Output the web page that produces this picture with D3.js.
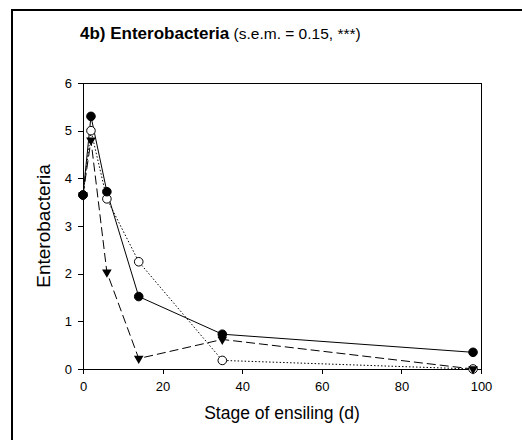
<!DOCTYPE html>
<html>
<head>
<meta charset="utf-8">
<script src="https://cdn.jsdelivr.net/npm/d3@7"></script>
<style>
  body { margin: 0; background: #fff; }
  svg text { font-family: Arial, "Liberation Sans", sans-serif; fill: #000; }
  .axis path, .axis line { stroke: #000; stroke-width: 1; shape-rendering: crispEdges; }
  .axis text { font-size: 13px; }
</style>
</head>
<body>
<svg id="chart"></svg>
<script>
// days of ensiling
const days = [0, 2, 6, 14, 35, 98];
// three treatments, log cfu Enterobacteria
const seriesSolid = [3.65, 5.3, 3.72, 1.52, 0.73, 0.35];
const seriesDotted = [3.65, 5.0, 3.57, 2.25, 0.18, 0.0];
const seriesDashed = [3.65, 4.8, 2.03, 0.22, 0.62, 0.0];
const xTicks = [0, 20, 40, 60, 80, 100];
const yTicks = [0, 1, 2, 3, 4, 5, 6];

const width = 522, height = 440;
const margin = {top: 83, right: 41, bottom: 71, left: 83};
const innerW = width - margin.left - margin.right;
const innerH = height - margin.top - margin.bottom;

const svg = d3.select('#chart')
    .attr('width', width)
    .attr('height', height);

// outer frame (only left and top visible)
svg.append('path')
    .attr('d', `M12,${height + 5}V10H${width + 5}`)
    .attr('fill', 'none')
    .attr('stroke', '#000')
    .attr('stroke-width', 2);

const chart = svg.append('g')
    .attr('transform', `translate(${margin.left},${margin.top})`);

const xScale = d3.scaleLinear().domain([0, 100]).range([0, innerW]);
const yScale = d3.scaleLinear().domain([0, 6]).range([innerH, 0]);

const xAxis = d3.axisBottom(xScale).tickValues(xTicks).tickSize(5).tickPadding(8).tickSizeOuter(0);
const yAxis = d3.axisLeft(yScale).tickValues(yTicks).tickFormat(d3.format('d'))
    .tickSize(5).tickPadding(6).tickSizeOuter(0);

chart.append('g')
    .attr('class', 'axis x-axis')
    .attr('transform', `translate(0,${innerH})`)
    .call(xAxis);

chart.append('g')
    .attr('class', 'axis y-axis')
    .call(yAxis);

// top and right box lines
chart.append('path')
    .attr('d', `M0,0.5H${innerW + 0.5}V${innerH}`)
    .attr('fill', 'none')
    .attr('stroke', '#000')
    .attr('shape-rendering', 'crispEdges');

// axis titles
chart.append('text')
    .attr('x', innerW / 2)
    .attr('y', innerH + 50)
    .attr('text-anchor', 'middle')
    .style('font-size', '17.5px')
    .text('Stage of ensiling (d)');

chart.append('text')
    .attr('transform', 'rotate(-90)')
    .attr('x', -innerH / 2)
    .attr('y', -33)
    .attr('text-anchor', 'middle')
    .style('font-size', '19px')
    .text('Enterobacteria');

// title
const title = svg.append('text')
    .attr('x', 80)
    .attr('y', 39);
title.append('tspan')
    .style('font-weight', 'bold')
    .style('font-size', '17px')
    .text('4b) Enterobacteria');
title.append('tspan')
    .style('font-size', '15.5px')
    .text(' (s.e.m. = 0.15, ***)');

const line = d3.line()
    .x(d => xScale(d[0]))
    .y(d => yScale(d[1]));

const series = [
    {name: 'dotted', values: seriesDotted, dash: '1.5,2', marker: 'open'},
    {name: 'dashed', values: seriesDashed, dash: '9,4', marker: 'triangle'},
    {name: 'solid', values: seriesSolid, dash: null, marker: 'filled'}
];

series.forEach(s => {
    const pts = days.map((d, i) => [d, s.values[i]]);
    chart.append('path')
        .datum(pts)
        .attr('fill', 'none')
        .attr('stroke', '#000')
        .attr('stroke-width', 1)
        .attr('stroke-dasharray', s.dash)
        .attr('d', line);
});

series.forEach(s => {
    const pts = days.map((d, i) => [d, s.values[i]]);
    if (s.marker === 'triangle') {
        chart.selectAll(`.pt-${s.name}`)
            .data(pts)
            .join('path')
            .attr('class', `pt-${s.name}`)
            .attr('transform', d => `translate(${xScale(d[0])},${yScale(d[1])}) rotate(180)`)
            .attr('d', d3.symbol().type(d3.symbolTriangle).size(40))
            .attr('fill', '#000');
    } else {
        chart.selectAll(`.pt-${s.name}`)
            .data(pts)
            .join('circle')
            .attr('class', `pt-${s.name}`)
            .attr('cx', d => xScale(d[0]))
            .attr('cy', d => yScale(d[1]))
            .attr('r', 4.3)
            .attr('fill', s.marker === 'open' ? '#fff' : '#000')
            .attr('stroke', '#000')
            .attr('stroke-width', 1);
    }
});
</script>
</body>
</html>
